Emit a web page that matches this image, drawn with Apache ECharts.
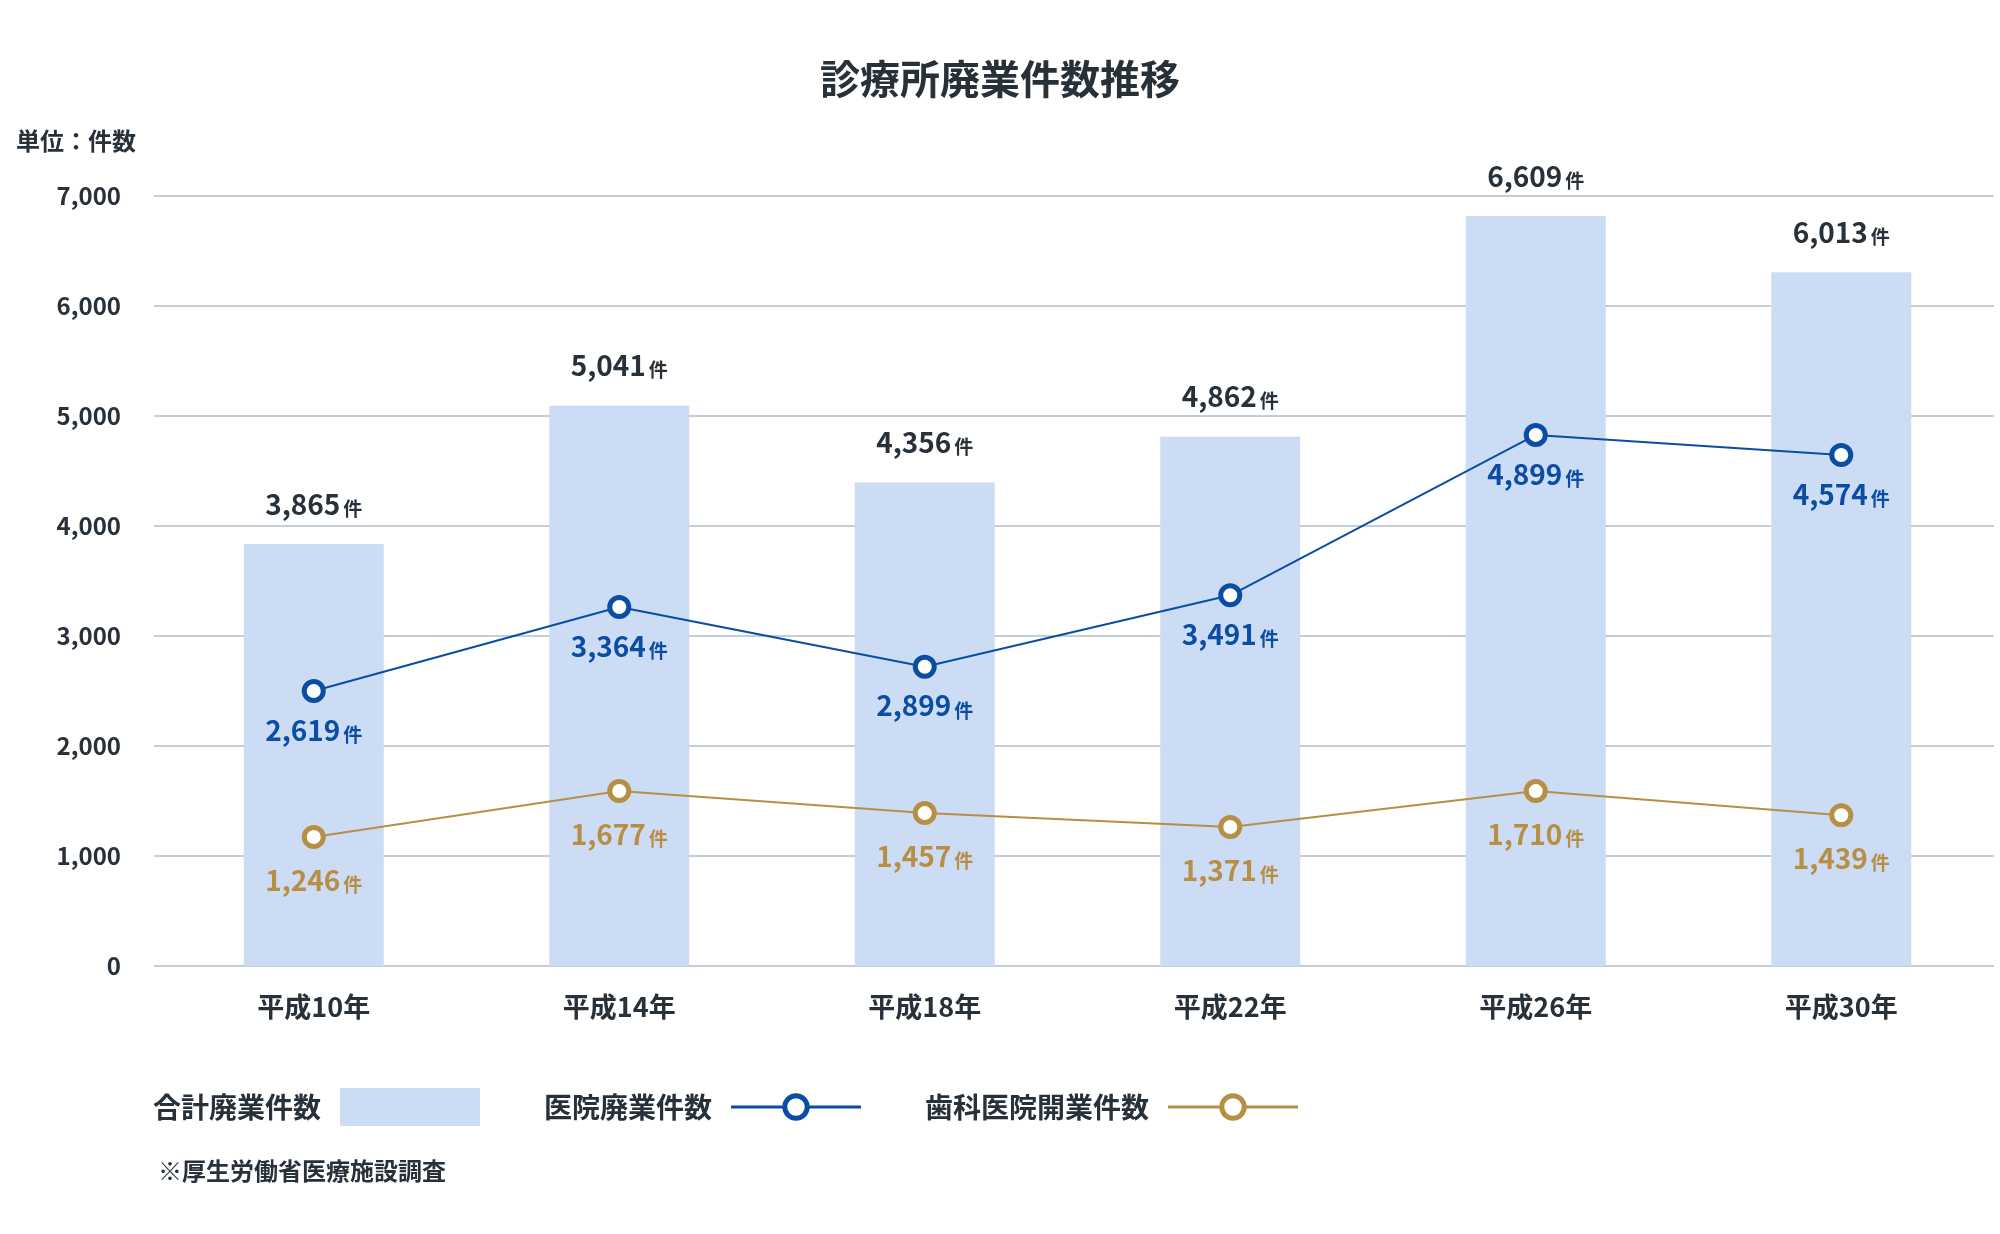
<!DOCTYPE html>
<html lang="ja">
<head>
    <meta charset="UTF-8">
    <title>診療所廃業件数推移</title>
    <script src="https://cdn.jsdelivr.net/npm/echarts@6/dist/echarts.min.js"></script>
    <style>
        html, body { margin: 0; padding: 0; background: #fff; }
    </style>
</head>
<body>
    <div id="main" style="width: 2000px;height:1234px;"></div>

    <script type="text/javascript">
        // 値（棒・折れ線の高さは図から読み取ったもの、ラベルは図中の表記）
        var categories = ['平成10年', '平成14年', '平成18年', '平成22年', '平成26年', '平成30年']
        var totalBar = [3836, 5094, 4396, 4812, 6819, 6307]
        var totalLabel = [3865, 5041, 4356, 4862, 6609, 6013]
        var clinicLine = [2500, 3264, 2720, 3370, 4828, 4645]
        var clinicLabel = [2619, 3364, 2899, 3491, 4899, 4574]
        var dentalLine = [1173, 1591, 1390, 1264, 1590, 1370]
        var dentalLabel = [1246, 1677, 1457, 1371, 1710, 1439]
        var yMax = 7000
        var yStep = 1000

        var FONT = '"Noto Sans CJK JP", "Noto Sans", sans-serif'
        var DARK = '#28313a'
        var BAR = '#ccdcf4'
        var BLUE = '#0a4da2'
        var GOLD = '#b68f45'

        function fmt(v) {
            return v.toLocaleString('en-US')
        }

        function richFor(color) {
            return {
                n: { fontFamily: FONT, fontWeight: 'bold', fontSize: 28, color: color },
                u: { fontFamily: FONT, fontWeight: 'bold', fontSize: 19, color: color,
                     verticalAlign: 'bottom', padding: [0, 0, 0, 3] }
            }
        }

        var legendText = { fontFamily: FONT, fontWeight: 'bold', fontSize: 28, color: DARK, padding: [0, 14, 0, 0] }

        var myChart = echarts.init(document.getElementById('main'))

        var option = {
            backgroundColor: '#fff',
            animation: false,
            textStyle: { fontFamily: FONT },
            title: [{
                text: '診療所廃業件数推移',
                left: 'center',
                top: 54,
                textStyle: { fontFamily: FONT, fontWeight: 'bold', fontSize: 40, color: DARK }
            }, {
                text: '単位：件数',
                left: 11,
                top: 124,
                textStyle: { fontFamily: FONT, fontWeight: 'bold', fontSize: 24, color: DARK }
            }, {
                text: '※厚生労働省医療施設調査',
                left: 153,
                top: 1154,
                textStyle: { fontFamily: FONT, fontWeight: 'bold', fontSize: 24, color: DARK }
            }],
            legend: [{
                data: [{ name: '合計廃業件数', icon: 'rect' }],
                left: 153,
                top: 1088,
                padding: 0,
                align: 'right',
                itemWidth: 140,
                itemHeight: 38,
                textStyle: legendText
            }, {
                data: ['医院廃業件数'],
                left: 544,
                top: 1093,
                padding: 0,
                align: 'right',
                itemWidth: 130,
                itemHeight: 28,
                itemStyle: { borderWidth: 5 },
                lineStyle: { width: 3 },
                textStyle: legendText
            }, {
                data: ['歯科医院開業件数'],
                left: 925,
                top: 1093,
                padding: 0,
                align: 'right',
                itemWidth: 130,
                itemHeight: 28,
                itemStyle: { borderWidth: 5 },
                lineStyle: { width: 3 },
                textStyle: legendText
            }],
            grid: [
                { left: 154, right: 6, top: 196, bottom: 268 },
                { left: 161, right: 6, top: 196, bottom: 268 }
            ],
            xAxis: [{
                gridIndex: 0,
                type: 'category',
                data: categories,
                show: false
            }, {
                gridIndex: 1,
                type: 'category',
                data: categories,
                axisLine: { show: false },
                axisTick: { show: false },
                axisLabel: {
                    margin: 27,
                    fontFamily: FONT, fontWeight: 'bold', fontSize: 27, color: DARK
                }
            }],
            yAxis: [{
                gridIndex: 0,
                type: 'value',
                min: 0,
                max: yMax,
                interval: yStep,
                axisLine: { show: false },
                axisTick: { show: false },
                splitLine: { lineStyle: { color: '#c5cdd6', width: 2 } },
                axisLabel: {
                    margin: 33,
                    fontFamily: FONT, fontWeight: 'bold', fontSize: 24, color: DARK,
                    formatter: function (v) { return fmt(v) }
                }
            }, {
                gridIndex: 1,
                type: 'value',
                min: 0,
                max: yMax,
                interval: yStep,
                show: false,
                splitLine: { show: false }
            }],
            series: [{
                name: '合計廃業件数',
                type: 'bar',
                xAxisIndex: 1,
                yAxisIndex: 1,
                data: totalBar,
                barWidth: 140,
                itemStyle: { color: BAR },
                label: {
                    show: true,
                    position: 'top',
                    distance: 26,
                    formatter: function (p) {
                        return '{n|' + fmt(totalLabel[p.dataIndex]) + '}{u|件}'
                    },
                    rich: richFor(DARK)
                }
            }, {
                name: '医院廃業件数',
                type: 'line',
                xAxisIndex: 1,
                yAxisIndex: 1,
                data: clinicLine,
                symbol: 'circle',
                symbolSize: 19,
                z: 3,
                lineStyle: { color: BLUE, width: 2 },
                itemStyle: { color: '#fff', borderColor: BLUE, borderWidth: 5 },
                label: {
                    show: true,
                    position: 'bottom',
                    distance: 13,
                    formatter: function (p) {
                        return '{n|' + fmt(clinicLabel[p.dataIndex]) + '}{u|件}'
                    },
                    rich: richFor(BLUE)
                }
            }, {
                name: '歯科医院開業件数',
                type: 'line',
                xAxisIndex: 1,
                yAxisIndex: 1,
                data: dentalLine,
                symbol: 'circle',
                symbolSize: 19,
                z: 3,
                lineStyle: { color: GOLD, width: 2 },
                itemStyle: { color: '#fff', borderColor: GOLD, borderWidth: 5 },
                label: {
                    show: true,
                    position: 'bottom',
                    distance: 17,
                    formatter: function (p) {
                        return '{n|' + fmt(dentalLabel[p.dataIndex]) + '}{u|件}'
                    },
                    rich: richFor(GOLD)
                }
            }]
        }

        myChart.setOption(option)
    </script>
</body>
</html>
